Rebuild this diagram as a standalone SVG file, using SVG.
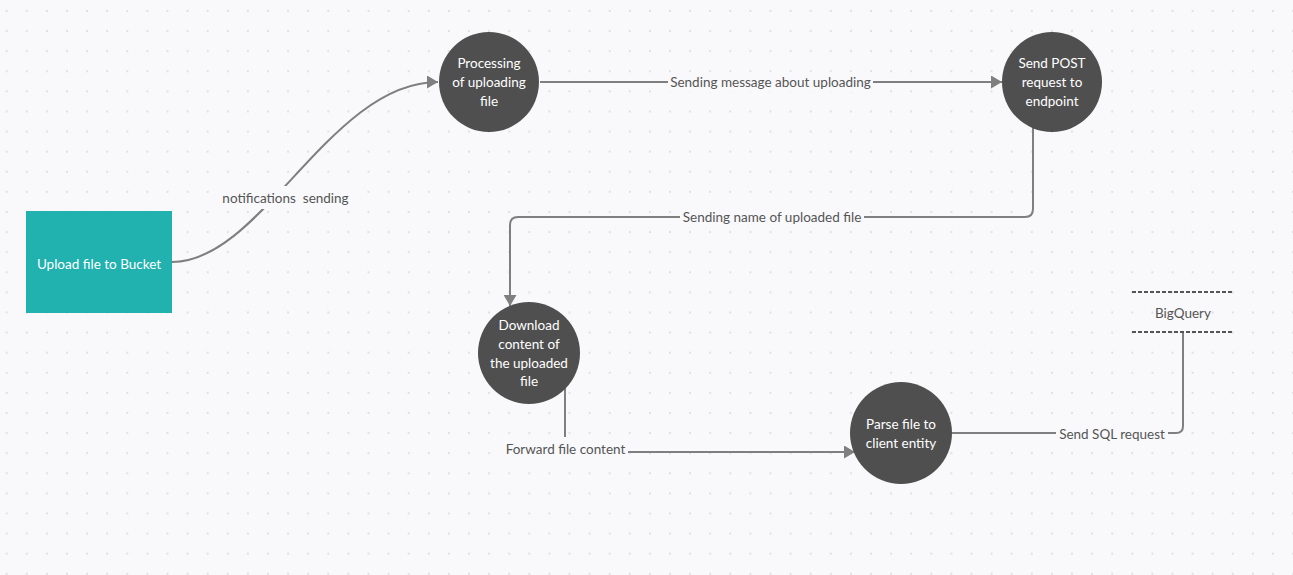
<svg xmlns="http://www.w3.org/2000/svg" width="1293" height="575" viewBox="0 0 1293 575">
  <defs>
    <pattern id="dots" x="6.7" y="11" width="20.1" height="20.1" patternUnits="userSpaceOnUse">
      <circle cx="0" cy="0" r="1.1" fill="#dfdfe3"/>
      <circle cx="20.1" cy="0" r="1.1" fill="#dfdfe3"/>
      <circle cx="0" cy="20.1" r="1.1" fill="#dfdfe3"/>
      <circle cx="20.1" cy="20.1" r="1.1" fill="#dfdfe3"/>
    </pattern>
    <marker id="arrow" markerUnits="userSpaceOnUse" markerWidth="12" markerHeight="13" refX="11" refY="6.5" orient="auto">
      <path d="M0,0 L11,6.5 L0,13 Z" fill="#7f7f7f"/>
    </marker>
    <style>
      .bg { fill: #f9f9fb; }
      .conn { fill: none; stroke: #7f7f7f; stroke-width: 2; }
      .lblbg { fill: #f9f9fb; }
      .lbl { font-family: Lato, "Liberation Sans", sans-serif; font-size: 13.5px; fill: #555555; text-anchor: middle; dominant-baseline: central; }
      .circle { fill: #4f4f4f; }
      .ntext { font-family: Lato, "Liberation Sans", sans-serif; font-size: 13.5px; fill: #ffffff; text-anchor: middle; dominant-baseline: central; }
      .dash { stroke: #555555; stroke-width: 2; stroke-dasharray: 4 2; fill: none; }
    </style>
  </defs>
  <rect class="bg" x="0" y="0" width="1293" height="575"/>
  <rect x="0" y="0" width="1293" height="575" fill="url(#dots)"/>

  <g id="connectors">
    <path class="conn" d="M172,262 C262,262 330,82 438,82" marker-end="url(#arrow)"/>
    <path class="conn" d="M540,82 H1002" marker-end="url(#arrow)"/>
    <path class="conn" d="M1033,128 V209 Q1033,217 1025,217 H518 Q510,217 510,225 V306" marker-end="url(#arrow)"/>
    <path class="conn" d="M565,387 V452 H855" marker-end="url(#arrow)"/>
    <path class="conn" d="M952,433 H1176 Q1183,433 1183,426 V333"/>

    <rect class="lblbg" x="220" y="186" width="131" height="23"/>
    <text class="lbl" x="285.5" y="198" xml:space="preserve">notifications  sending</text>
    <rect class="lblbg" x="668" y="72" width="205" height="20"/>
    <text class="lbl" x="770.5" y="82">Sending message about uploading</text>
    <rect class="lblbg" x="680" y="207" width="184" height="20"/>
    <text class="lbl" x="772" y="217">Sending name of uploaded file</text>
    <rect class="lblbg" x="502" y="437" width="126" height="24"/>
    <text class="lbl" x="565.5" y="449">Forward file content</text>
    <rect class="lblbg" x="1056" y="423" width="112" height="20"/>
    <text class="lbl" x="1112" y="434">Send SQL request</text>
  </g>

  <g id="node-upload">
    <rect x="26" y="211" width="146" height="102" fill="#21b1ae"/>
    <text class="ntext" x="99" y="264">Upload file to Bucket</text>
  </g>

  <g id="node-processing">
    <circle class="circle" cx="489" cy="82" r="50"/>
    <text class="ntext" x="489" y="63">Processing</text>
    <text class="ntext" x="489" y="82">of uploading</text>
    <text class="ntext" x="489" y="101">file</text>
  </g>

  <g id="node-post">
    <circle class="circle" cx="1052" cy="82" r="50"/>
    <text class="ntext" x="1052" y="63">Send POST</text>
    <text class="ntext" x="1052" y="82">request to</text>
    <text class="ntext" x="1052" y="101">endpoint</text>
  </g>

  <g id="node-download">
    <circle class="circle" cx="529" cy="353" r="51"/>
    <text class="ntext" x="529" y="325">Download</text>
    <text class="ntext" x="529" y="344">content of</text>
    <text class="ntext" x="529" y="363">the uploaded</text>
    <text class="ntext" x="529" y="381">file</text>
  </g>

  <g id="node-parse">
    <circle class="circle" cx="901" cy="433" r="51"/>
    <text class="ntext" x="901" y="424">Parse file to</text>
    <text class="ntext" x="901" y="443">client entity</text>
  </g>

  <g id="node-bigquery">
    <line class="dash" x1="1132" y1="292" x2="1234" y2="292"/>
    <line class="dash" x1="1132" y1="332" x2="1234" y2="332"/>
    <text class="lbl" x="1183" y="313">BigQuery</text>
  </g>
</svg>
